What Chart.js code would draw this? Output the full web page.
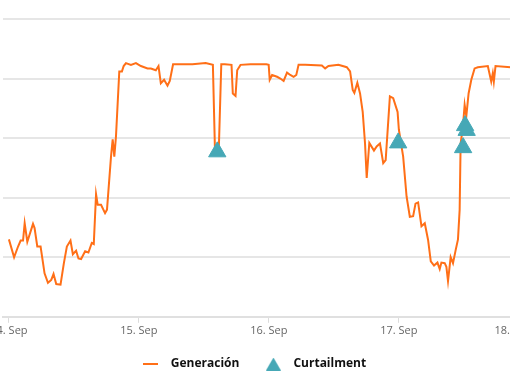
<!DOCTYPE html>
<html>
<head>
<meta charset="utf-8">
<script src="https://cdn.jsdelivr.net/npm/chart.js@4.4.1/dist/chart.umd.min.js"></script>
<style>
  html, body { margin: 0; padding: 0; background: #fff; overflow: hidden; width: 510px; height: 382px; }
  #wrap { position: absolute; left: -100px; top: 0; width: 700px; height: 382px; }
</style>
</head>
<body>
<div id="wrap"><canvas id="GenerationStats"></canvas></div>
<script>
//
// Data (hours since 14. Sep 00:00, MW)
var gen_hours = [
  0, 0.96, 1.69, 2.17, 2.61, 2.91, 3.40, 4.45, 4.74, 5.24,
  5.85, 6.58, 7.21, 7.82, 8.24, 8.74, 9.53, 10.15, 10.70, 11.37,
  11.81, 12.41, 12.84, 13.33, 14.07, 14.68, 15.30, 15.67, 16.09, 16.40,
  17.01, 17.75, 18.11, 18.85, 19.16, 19.46, 19.77, 20.38, 20.87, 21.19,
  21.61, 22.53, 23.45, 24.37, 25.60, 26.21, 27.13, 27.62, 28.05, 28.65,
  29.28, 29.70, 30.31, 31.41, 33.88, 36.32, 37.66, 38.03, 38.77, 39.21,
  39.87, 41.10, 41.34, 41.84, 42.15, 42.76, 44.60, 47.54, 47.96, 48.15,
  48.59, 49.51, 50.11, 50.72, 51.35, 51.95, 52.56, 53.06, 53.48, 54.71,
  57.78, 58.39, 59.00, 60.84, 62.38, 62.99, 63.48, 63.78, 64.33, 64.83,
  65.32, 65.75, 66.06, 66.54, 67.40, 67.90, 68.51, 69.11, 69.56, 70.34,
  70.95, 71.76, 72.00, 72.79, 73.42, 74.02, 74.63, 75.07, 75.55, 76.17,
  76.78, 77.39, 77.89, 78.49, 79.12, 79.54, 79.85, 80.46, 80.77, 81.07,
  81.56, 81.99, 82.48, 82.91, 83.22, 83.40, 83.82, 84.14, 84.45, 84.87,
  85.37, 85.98, 86.58, 88.42, 89.05, 89.34, 89.53, 89.84, 92.60
];
var gen_values = [
  13.0, 10.0, 11.8, 12.8, 12.8, 15.7, 12.6, 15.6, 14.9, 11.8,
  11.8, 7.3, 5.7, 6.2, 7.2, 5.5, 5.4, 9.0, 11.8, 12.8,
  10.5, 11.1, 9.8, 9.7, 11.0, 10.8, 12.4, 12.2, 20.6, 18.8,
  18.8, 17.4, 18.0, 26.9, 29.8, 26.9, 30.3, 41.2, 41.2, 42.1,
  42.6, 42.3, 42.6, 42.1, 41.7, 41.7, 41.4, 42.1, 39.2, 39.8,
  38.8, 39.6, 42.4, 42.4, 42.4, 42.6, 42.3, 28.6, 28.6, 42.4,
  42.4, 42.3, 37.5, 37.1, 41.4, 42.3, 42.4, 42.4, 42.3, 39.8,
  40.6, 40.3, 40.0, 39.6, 41.0, 40.6, 40.3, 40.6, 42.3, 42.3,
  42.2, 41.7, 42.1, 42.3, 41.9, 41.2, 38.1, 37.6, 39.3, 37.5,
  34.4, 29.1, 23.3, 29.2, 27.9, 28.6, 29.1, 25.8, 26.3, 37.0,
  36.7, 34.4, 31.4, 26.9, 20.2, 16.8, 16.9, 19.0, 19.2, 15.2,
  15.7, 12.9, 9.3, 8.6, 9.1, 8.0, 9.1, 9.0, 8.4, 6.0,
  10.0, 9.0, 11.2, 13.0, 18.0, 29.1, 31.9, 35.6, 33.7, 37.5,
  39.8, 41.7, 41.9, 42.1, 39.5, 40.9, 39.5, 42.1, 41.9
];
var curtailment_hours = [38.47, 71.87, 83.86, 84.23, 84.51];
var curtailment_values = [27.7, 29.2, 28.4, 32.1, 31.3];

var tick_hours = [0, 24, 48, 72, 96];
var tick_labels = ['14. Sep', '15. Sep', '16. Sep', '17. Sep', '18. Sep'];

var series_names = ['Generación', 'Curtailment'];

var orange = '#ff6f17';
var teal = '#46a8b6';

Chart.defaults.font.family = "'Open Sans', sans-serif";

//
// Legend markers
var line_marker = document.createElement('canvas');
line_marker.width = 15;
line_marker.height = 2;
var lm = line_marker.getContext('2d');
lm.fillStyle = orange;
lm.fillRect(0, 0, 15, 2);

var triangle_marker = document.createElement('canvas');
triangle_marker.width = 15;
triangle_marker.height = 13;
var tm = triangle_marker.getContext('2d');
tm.fillStyle = teal;
tm.beginPath();
tm.moveTo(7.5, 0);
tm.lineTo(15, 13);
tm.lineTo(0, 13);
tm.closePath();
tm.fill();

var legend_markers = [line_marker, triangle_marker];

var generation = gen_hours.map(function(h, i){ return { x: h, y: gen_values[i] }; });
var curtailment = curtailment_hours.map(function(h, i){ return { x: h, y: curtailment_values[i] }; });

//
// Draw Chart
var ctx = document.getElementById('GenerationStats').getContext('2d');
new Chart(ctx, {
  type: 'line',
  data: {
    datasets: [{
      label: series_names[0],
      data: generation,
      borderColor: orange,
      backgroundColor: orange,
      borderWidth: 2,
      pointRadius: 0,
      tension: 0,
      order: 1
    }, {
      label: series_names[1],
      data: curtailment,
      showLine: false,
      pointStyle: 'triangle',
      pointRadius: 10,
      pointBackgroundColor: teal,
      pointBorderColor: teal,
      pointBorderWidth: 1,
      backgroundColor: teal,
      borderColor: teal,
      order: 0
    }]
  },
  options: {
    responsive: true,
    maintainAspectRatio: false,
    animation: false,
    layout: { padding: { left: 3, top: 19, right: 0, bottom: 2 } },
    scales: {
      x: {
        type: 'linear',
        min: -1.09,
        max: 107.1,
        afterBuildTicks: function(scale){
          scale.ticks = tick_hours.map(function(v){ return { value: v }; });
        },
        ticks: {
          autoSkip: false,
          maxRotation: 0,
          padding: 1,
          color: '#666666',
          font: { size: 11 },
          callback: function(value){
            var i = tick_hours.indexOf(value);
            if (i < 0) return '';
            // last label is pushed left, like a justified edge label
            if (i === tick_labels.length - 1) return tick_labels[i] + '\u00a0'.repeat(11);
            return tick_labels[i];
          }
        },
        grid: { drawOnChartArea: false, drawTicks: true, tickLength: 6, color: '#dcdcdc' },
        border: { color: '#e0e0e0', width: 2 }
      },
      y: {
        min: 0,
        max: 50,
        afterFit: function(scale){ scale.width = 100; },
        ticks: { display: false, stepSize: 10 },
        grid: { color: '#e6e6e6', lineWidth: 2, drawTicks: false },
        border: { display: false }
      }
    },
    plugins: {
      tooltip: { enabled: false },
      legend: {
        position: 'bottom',
        labels: {
          usePointStyle: true,
          pointStyleWidth: 28,
          padding: 20,
          color: '#111111',
          font: { size: 12, weight: 'bold' },
          sort: function(a, b){ return a.datasetIndex - b.datasetIndex; },
          generateLabels: function(chart){
            var items = Chart.defaults.plugins.legend.labels.generateLabels(chart);
            items.forEach(function(item){
              item.pointStyle = legend_markers[item.datasetIndex];
            });
            return items;
          }
        }
      }
    }
  }
});
</script>
</body>
</html>
